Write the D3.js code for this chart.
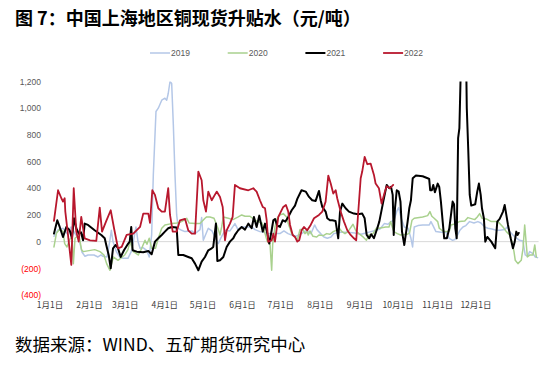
<!DOCTYPE html>
<html><head><meta charset="utf-8">
<script src="https://cdn.jsdelivr.net/npm/d3@7"></script>
<style>
html,body{margin:0;padding:0;background:#fff;}
svg{display:block;}
</style></head>
<body>
<script>
// ---- data (x = day of year on the chart's date axis, y = 元/吨) ----
const seriesNames = ["2019", "2020", "2021", "2022"];
const seriesColors = ["#b4c7e7", "#a9d18e", "#000000", "#b8172d"];
const yTicks = [-400, -200, 0, 200, 400, 600, 800, 1000, 1200];
const monthStarts = [0, 31, 59, 90, 120, 151, 181, 212, 243, 273, 304, 334];
const monthLabels = ["1月1日","2月1日","3月1日","4月1日","5月1日","6月1日","7月1日","8月1日","9月1日","10月1日","11月1日","12月1日"];

const blue2019 = [[3.5,40],[6.7,90],[10.6,100],[13.7,60],[16.9,110],[20.0,60],[23.1,20],[25.5,-80],[27.8,-110],[30.2,-100],[34.9,-100],[38.0,-115],[40.4,-100],[41.9,-110],[45.1,-115],[47.2,0],[48.5,85],[49.8,0],[52.4,-75],[55.0,-115],[57.6,-125],[61.5,-125],[64.1,-75],[65.7,0],[67.8,110],[69.4,0],[71.0,-50],[73.3,-45],[76.2,-65],[78.2,-115],[80.1,50],[81.4,500],[83.5,975],[85.3,1000],[88.0,1060],[90.5,1075],[91.9,1060],[93.1,1110],[94.5,1200],[95.8,1185],[97.1,875],[98.4,500],[99.7,200],[101.0,100],[103.6,85],[106.2,75],[111.5,80],[114.1,60],[118.0,90],[119.3,180],[120.6,10],[124.5,100],[127.4,80],[129.7,35],[132.3,-15],[134.5,30],[137.6,85],[141.5,80],[145.4,135],[147.8,90],[150.7,110],[158.5,110],[161.1,90],[165.0,75],[172.9,60],[180.7,60],[183.8,80],[187.0,60],[189.9,50],[193.3,40],[197.7,60],[201.6,85],[205.0,60],[207.9,125],[209.7,90],[212.6,60],[215.2,35],[217.8,25],[220.7,35],[223.0,60],[227.7,70],[233.2,70],[239.5,65],[244.2,55],[248.1,65],[252.0,75],[256.0,85],[259.1,95],[262.5,135],[265.4,130],[267.7,150],[270.1,160],[272.4,230],[273.8,255],[275.6,180],[278.2,110],[281.1,100],[283.4,25],[284.7,-40],[286.0,110],[288.9,120],[292.6,125],[297.8,125],[299.1,150],[300.7,120],[303.0,75],[307.0,70],[310.9,70],[313.4,25],[316.1,10],[317.9,15],[320.0,50],[321.8,85],[324.2,110],[326.5,120],[329.4,150],[332.8,140],[335.9,150],[338.3,140],[341.2,110],[343.8,100],[346.9,95],[350.3,85],[353.2,85],[356.9,90],[358.9,110],[360.8,75],[363.4,50],[365.7,30],[368.6,10],[371.2,5],[373.0,-100],[374.8,-110],[376.5,-75],[379.1,-90],[380.9,-115],[382.7,-120]];

const green2020 = [[3.5,-40],[5.5,65],[8.2,95],[10.6,75],[11.9,-15],[13.7,-40],[16.1,20],[17.6,30],[18.7,-165],[20.0,25],[23.1,50],[25.1,-60],[26.5,-75],[35.4,-60],[39.6,-75],[42.7,-100],[44.8,-165],[47.4,-215],[50.0,-115],[53.7,-140],[59.0,-100],[61.5,-60],[63.1,0],[65.7,-75],[69.6,-100],[72.3,-50],[74.9,10],[76.4,-20],[78.2,25],[80.1,-50],[83.1,-50],[85.3,25],[88.0,100],[90.5,125],[95.8,135],[99.9,140],[103.6,150],[107.6,175],[109.4,140],[114.1,135],[118.0,135],[121.9,175],[123.2,185],[125.8,185],[129.0,175],[131.1,125],[132.4,90],[133.7,50],[135.0,110],[136.3,185],[140.2,175],[143.9,165],[148.0,185],[150.7,200],[153.3,190],[157.2,190],[161.1,160],[163.7,150],[166.6,140],[169.0,60],[170.8,0],[172.9,-15],[174.2,-215],[175.0,-20],[176.8,110],[178.6,175],[180.7,200],[183.3,210],[185.9,185],[187.2,135],[189.9,60],[192.5,35],[194.3,10],[196.4,90],[198.8,90],[200.3,60],[201.9,75],[202.9,50],[204.2,80],[206.6,40],[209.5,35],[211.3,50],[214.7,45],[217.3,60],[219.9,55],[222.5,75],[225.0,85],[227.2,100],[229.3,75],[231.7,60],[234.0,75],[238.0,130],[240.3,80],[242.6,60],[245.9,35],[248.5,10],[250.4,50],[253.7,60],[256.2,100],[258.4,100],[263.6,110],[266.2,110],[267.5,150],[268.8,110],[270.0,75],[272.7,60],[275.3,50],[280.5,55],[282.3,65],[284.2,160],[286.0,175],[292.6,185],[296.5,195],[298.3,225],[299.8,190],[301.6,175],[304.4,150],[305.6,100],[308.3,80],[310.9,75],[313.5,80],[314.8,125],[318.7,135],[321.3,150],[325.6,155],[328.1,180],[333.4,165],[335.4,185],[337.3,210],[339.1,175],[342.5,170],[346.4,150],[351.6,150],[355.6,110],[358.2,75],[360.8,50],[362.6,0],[364.2,-75],[365.2,-140],[367.3,-165],[369.9,-140],[371.3,-50],[372.6,125],[373.9,-25],[374.7,-115],[376.8,-100],[379.1,-100],[380.5,-25],[381.7,-115]];

const black2021 = [[3.5,60],[6.1,160],[8.0,110],[10.6,35],[13.2,110],[15.8,85],[17.6,25],[19.2,175],[21.0,100],[22.9,60],[24.7,70],[26.3,10],[27.6,135],[30.2,125],[35.4,85],[40.6,50],[43.3,25],[44.5,-25],[46.4,-100],[48.0,-200],[49.8,-50],[51.9,-25],[53.7,-50],[55.8,-115],[58.4,-65],[61.0,-25],[62.9,0],[64.1,110],[65.2,-65],[68.4,-75],[73.5,-80],[77.5,-70],[80.1,-95],[82.7,0],[85.3,25],[88.0,50],[90.5,75],[93.1,100],[95.8,110],[99.7,105],[101.0,-100],[104.9,-100],[108.8,-115],[111.5,-125],[114.1,-165],[116.7,-215],[119.3,-150],[121.9,-115],[124.5,-65],[127.2,-50],[128.4,-40],[130.5,135],[131.6,-145],[133.7,-140],[136.3,-115],[138.9,-40],[141.5,0],[144.1,25],[145.4,50],[148.0,85],[150.7,110],[153.3,90],[155.9,135],[158.5,100],[160.3,185],[162.4,110],[164.5,195],[167.2,75],[169.0,135],[170.8,60],[172.3,-15],[174.2,85],[175.5,160],[176.8,170],[178.6,120],[180.7,110],[182.8,160],[185.0,150],[187.2,185],[189.9,235],[192.5,270],[194.3,320],[197.6,385],[200.9,375],[203.5,335],[206.0,310],[208.7,305],[211.3,380],[212.6,310],[213.9,260],[216.5,225],[217.8,175],[219.9,160],[221.7,160],[224.3,155],[226.4,25],[227.8,225],[229.6,285],[232.2,250],[234.8,225],[238.7,210],[241.9,205],[245.2,210],[247.1,175],[248.7,50],[250.7,25],[252.3,55],[254.4,25],[257.0,100],[258.6,150],[261.7,300],[264.4,425],[266.4,400],[267.8,410],[269.1,350],[269.9,50],[270.9,250],[272.3,385],[273.8,375],[275.2,300],[276.4,75],[278.2,-25],[280.8,150],[282.1,250],[283.4,310],[284.8,475],[287.3,495],[292.6,490],[296.5,475],[297.7,470],[298.5,385],[299.8,385],[300.9,425],[302.2,370],[304.4,435],[305.6,410],[306.9,300],[308.3,150],[309.5,25],[311.6,25],[313.5,100],[314.8,200],[316.1,300],[317.2,280],[318.2,100],[319.3,25],[320.4,775],[321.4,850],[323.5,1700],[326.2,1700],[327.2,1000],[328.3,700],[329.5,350],[330.7,270],[333.8,280],[335.4,375],[336.7,435],[338.1,350],[339.1,250],[340.6,175],[341.7,0],[343.3,35],[346.4,0],[349.5,-50],[351.1,150],[353.0,170],[355.6,225],[356.9,275],[358.2,200],[359.5,125],[361.6,25],[363.4,-50],[364.8,0],[366.0,75],[367.0,50],[367.9,65]];

const red2022 = [[3.5,155],[6.7,385],[9.3,325],[10.6,300],[11.9,325],[12.4,225],[14.5,50],[17.1,-175],[19.0,400],[21.0,75],[22.9,0],[24.9,185],[27.6,25],[31.8,10],[36.7,5],[39.4,255],[41.2,75],[44.3,150],[48.0,235],[50.6,100],[53.7,-50],[56.6,-40],[60.5,50],[65.7,60],[71.0,110],[73.5,210],[77.5,210],[78.8,140],[80.6,385],[82.7,350],[85.3,250],[88.0,225],[90.5,225],[93.1,400],[94.5,200],[96.6,75],[99.7,75],[102.3,160],[106.3,170],[108.8,85],[111.5,60],[114.1,60],[116.7,525],[119.3,460],[120.6,310],[122.7,225],[124.5,375],[127.2,310],[131.1,375],[133.7,335],[135.8,260],[137.6,10],[138.9,85],[141.5,135],[143.6,185],[145.4,425],[149.3,400],[155.9,385],[159.8,400],[162.4,375],[165.0,310],[167.2,260],[169.0,250],[170.3,160],[171.5,0],[174.2,10],[175.5,60],[176.8,0],[179.4,185],[183.3,260],[185.4,275],[187.2,225],[188.6,125],[190.7,50],[192.5,35],[194.3,0],[195.8,10],[197.7,85],[199.5,110],[202.1,85],[204.8,125],[207.4,175],[211.3,200],[213.9,225],[216.5,300],[218.6,495],[220.5,435],[222.5,360],[224.4,385],[225.6,325],[228.3,225],[230.9,150],[233.5,85],[236.1,50],[238.7,25],[240.5,10],[244.0,475],[245.2,525],[247.1,635],[249.2,580],[251.8,585],[254.4,500],[255.7,435],[258.3,400],[260.4,285],[263.0,375],[264.4,415],[267.0,400],[269.5,425]];

const seriesData = [blue2019, green2020, black2021, red2022];
const seriesWidths = [1.5, 1.5, 2, 1.8];

// ---- layout ----
const W = 549, H = 366;
const svg = d3.select("body").append("svg").attr("width", W).attr("height", H);

const x = d3.scaleLinear().domain([0, 365]).range([49.5, 515]);
const y = d3.scaleLinear().domain([-400, 1200]).range([295, 81.5]);

// title
svg.append("text").attr("x", 15).attr("y", 24.5)
  .attr("font-family", "'Noto Sans CJK SC', sans-serif")
  .attr("font-weight", "bold").attr("font-size", 18).attr("fill", "#000")
  .text("图 7：中国上海地区铜现货升贴水（元/吨）");

// footer
svg.append("text").attr("x", 15).attr("y", 351)
  .attr("font-family", "'Noto Sans CJK SC', sans-serif")
  .attr("font-size", 17.5).attr("fill", "#000")
  .text("数据来源：WIND、五矿期货研究中心");

// y axis labels
const fmt = v => v < 0 ? "(" + d3.format(",")(-v) + ")" : d3.format(",")(v);
const yAxis = d3.axisLeft(y).tickValues(yTicks).tickFormat(fmt).tickSize(0).tickPadding(0);
const gy = svg.append("g").attr("transform", "translate(41,0)").call(yAxis);
gy.select(".domain").remove();
gy.selectAll("text")
  .attr("font-family", "'Liberation Sans', Arial, sans-serif")
  .attr("font-size", 8.5)
  .attr("fill", d => d < 0 ? "#ff0000" : "#595959");

// x axis labels
const xAxis = d3.axisBottom(x).tickValues(monthStarts).tickFormat((d, i) => monthLabels[i]).tickSize(0).tickPadding(0);
const gx = svg.append("g").attr("transform", "translate(0,302)").call(xAxis);
gx.select(".domain").remove();
gx.selectAll("text")
  .attr("font-family", "'Noto Sans CJK SC', sans-serif")
  .attr("font-size", 8.5).attr("fill", "#404040");

// zero line
svg.append("line")
  .attr("x1", x(1)).attr("x2", x(383.5))
  .attr("y1", y(0)).attr("y2", y(0))
  .attr("stroke", "#d9d9d9").attr("stroke-width", 1);

// clip
svg.append("clipPath").attr("id", "plotclip").append("rect")
  .attr("x", 0).attr("y", y(1200)).attr("width", W).attr("height", y(-400) - y(1200));

const line = d3.line().x(d => x(d[0])).y(d => y(d[1]));
const gl = svg.append("g").attr("clip-path", "url(#plotclip)");
seriesData.forEach((s, i) => {
  gl.append("path").datum(s)
    .attr("d", line)
    .attr("fill", "none")
    .attr("stroke", seriesColors[i])
    .attr("stroke-width", seriesWidths[i])
    .attr("stroke-linejoin", "round")
    .attr("stroke-linecap", "round");
});

// legend
const lg = svg.append("g").attr("transform", "translate(150,53)");
seriesNames.forEach((n, i) => {
  const g = lg.append("g").attr("transform", `translate(${i * 77.7},0)`);
  g.append("line").attr("x1", 0).attr("x2", 20).attr("y1", 0).attr("y2", 0)
    .attr("stroke", seriesColors[i]).attr("stroke-width", seriesWidths[i]);
  g.append("text").attr("x", 21).attr("y", 3)
    .attr("font-family", "'Liberation Sans', Arial, sans-serif")
    .attr("font-size", 8.5).attr("fill", "#595959").text(n);
});
</script>
</body></html>
